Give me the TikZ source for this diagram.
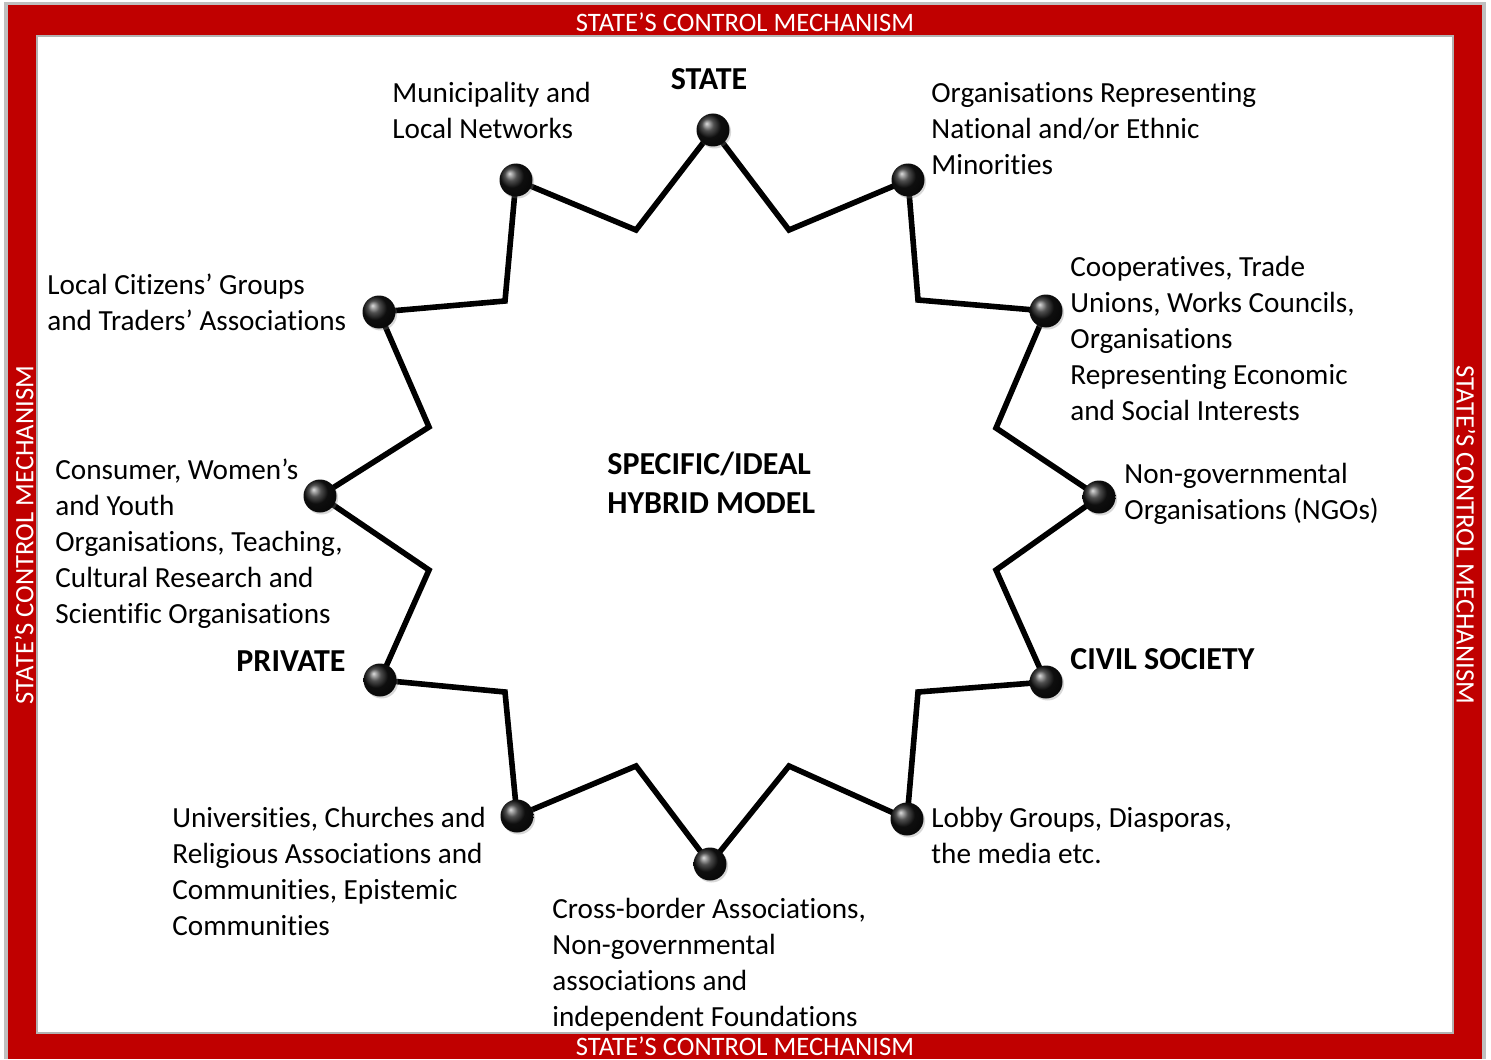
\documentclass[tikz,border=0pt]{standalone}
\usepackage{fontspec}
\setmainfont{Carlito}[Ligatures={NoCommon}]
\usetikzlibrary{shadows}
\definecolor{framered}{HTML}{C00000}

\begin{document}
\begin{tikzpicture}[x=0.5pt, y=-0.5pt,
	lbl/.style={anchor=north west, inner sep=0pt, align=left, font=\fontsize{14.6}{18}\selectfont},
	heading/.style={inner sep=0pt, align=left, font=\fontsize{16}{19.5}\selectfont\bfseries},
	frametext/.style={text=white, inner sep=0pt, font=\fontsize{13.3}{15}\selectfont},
	dot/.style={circle, minimum size=16.5pt, inner sep=0pt, shading=ball, ball color=black!92!white,
		drop shadow={shadow xshift=0.8pt, shadow yshift=-1pt, opacity=0.3}},
	starline/.style={line width=2.8pt, line join=miter}]
			%%%%% START %%%%%
			
			\useasboundingbox (0, 0) rectangle (1491, 1059);
			
			% frame
			\fill[black!25] (4, 2) rectangle (1486, 1059);
			\fill[framered] (8, 5) rectangle (1482, 1059);
			\fill[black!30] (36, 35) rectangle (1454, 1034);
			\fill[white] (38, 37) rectangle (1452, 1032);
			
			\node[frametext] (ctop) at (745, 22) {STATE’S CONTROL MECHANISM};
			\node[frametext] (cbottom) at (745, 1046) {STATE’S CONTROL MECHANISM};
			\node[frametext, rotate=90] (cleft) at (24, 535) {STATE’S CONTROL MECHANISM};
			\node[frametext, rotate=-90] (cright) at (1466, 535) {STATE’S CONTROL MECHANISM};
			
			% star points
			\coordinate (state) at (713, 130);
			\coordinate (ethnic) at (908, 180);
			\coordinate (coop) at (1046, 311);
			\coordinate (ngo) at (1099, 497);
			\coordinate (civil) at (1046, 682);
			\coordinate (lobby) at (907, 819);
			\coordinate (cross) at (710, 864);
			\coordinate (univ) at (517, 816);
			\coordinate (private) at (380, 680);
			\coordinate (consumer) at (320, 496);
			\coordinate (citizens) at (379, 312);
			\coordinate (municipal) at (516, 180);
			
			\draw[starline] (state) -- (789, 230) -- (ethnic) -- (918, 300) -- (coop) -- (996, 428)
				-- (ngo) -- (996, 570) -- (civil) -- (918, 692) -- (lobby) -- (789, 766)
				-- (cross) -- (636, 766) -- (univ) -- (505, 692) -- (private) -- (429, 570)
				-- (consumer) -- (429, 427) -- (citizens) -- (505, 301) -- (municipal) -- (636, 230) -- cycle;
			
			\foreach \p in {state, ethnic, coop, ngo, civil, lobby, cross, univ, private, consumer, citizens, municipal}
				\node[dot] (\p-dot) at (\p) {};
			
			% labels
			\node[heading, anchor=center] (statelbl) at (709, 79) {STATE};
			\node[heading, anchor=north west] (model) at (607, 452) {SPECIFIC/IDEAL\\HYBRID MODEL};
			\node[heading, anchor=east] (privatelbl) at (346, 661) {PRIVATE};
			\node[heading, anchor=west] (civillbl) at (1070, 659) {CIVIL SOCIETY};
			
			\node[lbl] (municipallbl) at (392, 82) {Municipality and\\Local Networks};
			\node[lbl] (ethniclbl) at (931, 82) {Organisations Representing\\National and/or Ethnic\\Minorities};
			\node[lbl] (cooplbl) at (1070, 256) {Cooperatives, Trade\\Unions, Works Councils,\\Organisations\\Representing Economic\\and Social Interests};
			\node[lbl] (ngolbl) at (1124, 463) {Non-governmental\\Organisations (NGOs)};
			\node[lbl] (lobbylbl) at (931, 807) {Lobby Groups, Diasporas,\\the media etc.};
			\node[lbl] (crosslbl) at (552, 898) {Cross-border Associations,\\Non-governmental\\associations and\\independent Foundations};
			\node[lbl] (univlbl) at (172, 807) {Universities, Churches and\\Religious Associations and\\Communities, Epistemic\\Communities};
			\node[lbl] (consumerlbl) at (55, 459) {Consumer, Women’s\\and Youth\\Organisations, Teaching,\\Cultural Research and\\Scientific Organisations};
			\node[lbl] (citizenslbl) at (47, 274) {Local Citizens’ Groups\\and Traders’ Associations};
			
			%%%%% END %%%%%
		\end{tikzpicture}
\end{document}
